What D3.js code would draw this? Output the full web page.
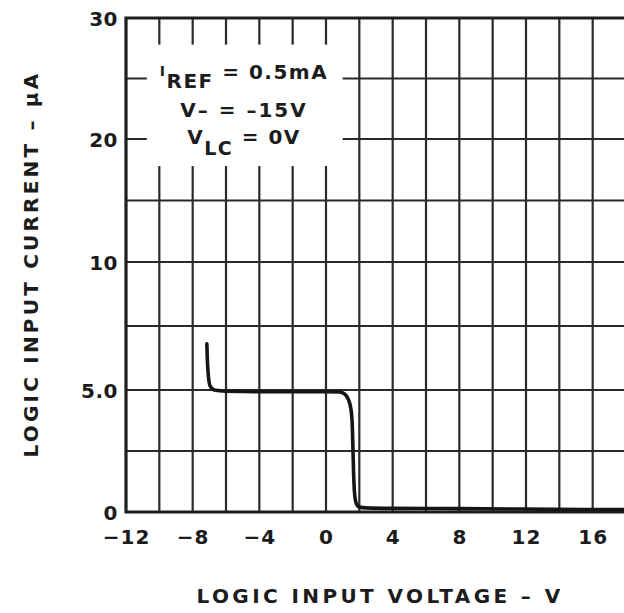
<!DOCTYPE html>
<html><head><meta charset="utf-8">
<script src="https://cdn.jsdelivr.net/npm/d3@7"></script>
<style>
html,body{margin:0;padding:0;background:#fff;}
svg text{font-family:"DejaVu Sans","Liberation Sans",Arial,sans-serif;font-weight:bold;fill:#1c1c1c;}
</style>
</head><body>
<svg id="c" width="624" height="613"></svg>
<script>
// ---- data ----
const voltage = [-7.15,-7.12,-7.05,-6.95,-6.7,-6.0,-4,-2,0,0.8,1.1,1.35,1.5,1.58,1.62,1.66,1.7,1.76,1.85,2.0,2.4,4,8,12,16,18];
const current = [6.8,6.2,5.5,5.15,5.0,4.95,4.93,4.93,4.93,4.92,4.85,4.6,4.2,3.5,2.5,1.5,0.9,0.5,0.3,0.2,0.17,0.15,0.14,0.12,0.1,0.1];
const xTicks = [-12,-8,-4,0,4,8,12,16];
const xTickLabels = ["\u221212","\u22128","\u22124","0","4","8","12","16"];
const yTicks = [0,5,10,20,30];
const yTickLabels = ["0","5.0","10","20","30"];
const xGrid = [-10,-8,-6,-4,-2,0,2,4,6,8,10,12,14,16,18];
const yGrid = [2.5,5,7.5,10,15,20,25,30];
const xTitle = "LOGIC INPUT VOLTAGE \u2013 V";
const yTitle = "LOGIC INPUT CURRENT \u2013 \u03bcA";

const svg = d3.select("#c");
const x = d3.scaleLinear().domain([-12,18]).range([126,626]);
const y = d3.scaleLinear().domain([0,5,10,20,30]).range([512,390,262,139,18]);

const ink = "#1e1e1e";
// grid
svg.append("g").selectAll("line").data(xGrid).join("line")
  .attr("x1",d=>x(d)).attr("x2",d=>x(d)).attr("y1",y(30)).attr("y2",y(0))
  .attr("stroke","#2a2a2a").attr("stroke-width",2.2);
svg.append("g").selectAll("line").data(yGrid).join("line")
  .attr("x1",x(-12)).attr("x2",x(18)+10).attr("y1",d=>y(d)).attr("y2",d=>y(d))
  .attr("stroke","#2a2a2a").attr("stroke-width",2.2);

// annotation box (white knock-out)
svg.append("rect").attr("x",x(-10.75)).attr("y",y(27.8))
  .attr("width",x(1.0)-x(-10.75)).attr("height",y(17.8)-y(27.8)).attr("fill","#fff");

// frame: left, top, bottom
svg.append("path")
  .attr("d",`M${x(18)+10},${y(30)}H${x(-12)}V${y(0)}H${x(18)+10}`)
  .attr("fill","none").attr("stroke",ink).attr("stroke-width",3.2);

// curve
const line = d3.line().x((d,i)=>x(voltage[i])).y((d,i)=>y(current[i])).curve(d3.curveMonotoneX);
svg.append("path").datum(current).attr("d",line)
  .attr("fill","none").attr("stroke","#151515").attr("stroke-width",3.6)
  .attr("stroke-linecap","round").attr("stroke-linejoin","round");

// axes labels
const xAxis = d3.axisBottom(x).tickValues(xTicks).tickSize(0).tickPadding(0)
  .tickFormat((d,i)=>xTickLabels[i]);
const gx = svg.append("g").attr("transform",`translate(0,${y(0)+32})`).call(xAxis);
gx.select(".domain").remove();
gx.selectAll("text").attr("font-size",20).attr("dy",0).attr("letter-spacing",1).style("font-family",null);

const yAxis = d3.axisLeft(y).tickValues(yTicks).tickSize(0).tickPadding(0)
  .tickFormat((d,i)=>yTickLabels[i]);
const gy = svg.append("g").attr("transform",`translate(${x(-12)-8},0)`).call(yAxis);
gy.select(".domain").remove();
gy.selectAll("text").attr("font-size",20).attr("dy","0.36em").attr("letter-spacing",0.5).style("font-family",null);

// titles
svg.append("text").attr("x",380).attr("y",603).attr("text-anchor","middle")
  .attr("font-size",20).attr("letter-spacing",3.4).text(xTitle);
svg.append("text").attr("transform","translate(38,264) rotate(-90)").attr("text-anchor","middle")
  .attr("font-size",20).attr("letter-spacing",3.2).text(yTitle);

// annotation text
const cx = 244;
const t1 = svg.append("text").attr("x",cx).attr("y",79).attr("text-anchor","middle").attr("font-size",20).attr("letter-spacing",1.5);
t1.append("tspan").attr("font-size",14).attr("dy",-3).text("I");
t1.append("tspan").attr("dy",12).text("REF");
t1.append("tspan").attr("dy",-9).text(" = 0.5mA");
svg.append("text").attr("x",cx).attr("y",117).attr("text-anchor","middle").attr("font-size",20)
  .attr("letter-spacing",2).text("V\u2013 = \u201315V");
const t3 = svg.append("text").attr("x",cx).attr("y",144).attr("text-anchor","middle").attr("font-size",20).attr("letter-spacing",1.5);
t3.append("tspan").text("V");
t3.append("tspan").attr("dy",11).attr("font-size",19).text("LC");
t3.append("tspan").attr("dy",-11).text(" = 0V");
</script>
</body></html>
